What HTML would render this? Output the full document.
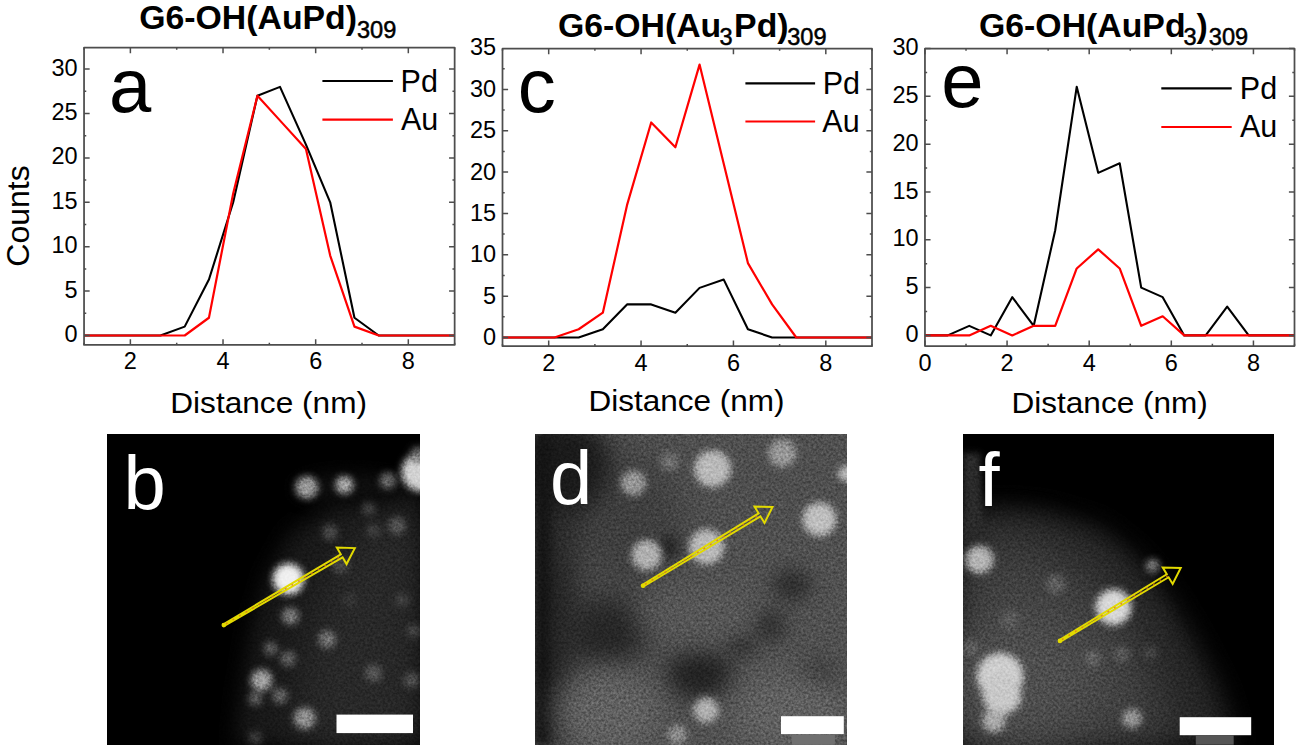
<!DOCTYPE html><html><head><meta charset="utf-8"><style>html,body{margin:0;padding:0;background:#fff;overflow:hidden}svg{display:block}text{font-family:"Liberation Sans",sans-serif;fill:#000}</style></head><body>
<svg width="1300" height="755" viewBox="0 0 1300 755">
<rect width="1300" height="755" fill="#fff"/>
<polyline points="84.05,335.50 160.44,335.50 184.69,326.62 208.94,279.56 233.19,202.30 257.44,95.74 280.00,86.86 305.95,144.58 330.20,202.30 354.45,317.74 378.70,335.50 454.65,335.50" fill="none" stroke="#000" stroke-width="2.1" stroke-linejoin="round"/>
<polyline points="84.05,335.50 184.69,335.50 208.94,317.74 233.19,193.42 257.44,95.74 281.70,122.38 305.95,149.02 330.20,255.58 354.45,326.62 378.70,335.50 454.65,335.50" fill="none" stroke="#ff0000" stroke-width="2.2" stroke-linejoin="round"/>
<rect x="84.05" y="47.55" width="370.60" height="297.40" fill="none" stroke="#4d4d4d" stroke-width="1.75" stroke-linejoin="round"/>
<path d="M130.38,344.95v-5.6M130.38,47.55v5.6M223.02,344.95v-5.6M223.02,47.55v5.6M315.67,344.95v-5.6M315.67,47.55v5.6M408.32,344.95v-5.6M408.32,47.55v5.6M84.05,344.95v-2.2M84.05,47.55v2.2M176.70,344.95v-2.2M176.70,47.55v2.2M269.35,344.95v-2.2M269.35,47.55v2.2M362.00,344.95v-2.2M362.00,47.55v2.2M454.65,344.95v-2.2M454.65,47.55v2.2M84.05,335.50h5.6M454.65,335.50h-5.6M84.05,313.30h2.2M454.65,313.30h-2.2M84.05,291.10h5.6M454.65,291.10h-5.6M84.05,268.90h2.2M454.65,268.90h-2.2M84.05,246.70h5.6M454.65,246.70h-5.6M84.05,224.50h2.2M454.65,224.50h-2.2M84.05,202.30h5.6M454.65,202.30h-5.6M84.05,180.10h2.2M454.65,180.10h-2.2M84.05,157.90h5.6M454.65,157.90h-5.6M84.05,135.70h2.2M454.65,135.70h-2.2M84.05,113.50h5.6M454.65,113.50h-5.6M84.05,91.30h2.2M454.65,91.30h-2.2M84.05,69.10h5.6M454.65,69.10h-5.6" stroke="#4d4d4d" stroke-width="1.5" fill="none"/>
<text x="77.65" y="341.90" text-anchor="end" font-size="23.5">0</text>
<text x="77.65" y="297.50" text-anchor="end" font-size="23.5">5</text>
<text x="77.65" y="253.10" text-anchor="end" font-size="23.5">10</text>
<text x="77.65" y="208.70" text-anchor="end" font-size="23.5">15</text>
<text x="77.65" y="164.30" text-anchor="end" font-size="23.5">20</text>
<text x="77.65" y="119.90" text-anchor="end" font-size="23.5">25</text>
<text x="77.65" y="75.50" text-anchor="end" font-size="23.5">30</text>
<text x="130.38" y="369.45" text-anchor="middle" font-size="23.5">2</text>
<text x="223.02" y="369.45" text-anchor="middle" font-size="23.5">4</text>
<text x="315.67" y="369.45" text-anchor="middle" font-size="23.5">6</text>
<text x="408.32" y="369.45" text-anchor="middle" font-size="23.5">8</text>
<text x="170.2" y="413" font-size="30.3" textLength="196.9" lengthAdjust="spacingAndGlyphs">Distance (nm)</text>
<path d="M322.4,81H392.9" stroke="#000" stroke-width="2.2"/>
<path d="M322.4,119.6H392.9" stroke="#ff0000" stroke-width="2.2"/>
<text x="400.6" y="91.6" font-size="30.5">Pd</text>
<text x="401" y="129.8" font-size="30.5">Au</text>
<text x="109" y="111.6" font-size="76">a</text>
<text x="139.2" y="29.2" font-size="33.8" font-weight="bold">G6-OH(AuPd)</text>
<text x="356.9" y="37.5" font-size="23.6" stroke="#000" stroke-width="0.5">309</text>
<polyline points="502.50,337.50 554.48,337.50 578.66,337.50 602.84,329.23 627.02,304.42 651.20,304.42 675.38,312.69 699.56,287.88 723.74,279.61 747.92,329.23 772.10,337.50 872.00,337.50" fill="none" stroke="#000" stroke-width="2.1" stroke-linejoin="round"/>
<polyline points="502.50,337.50 554.48,337.50 578.66,329.23 602.84,312.69 627.02,205.18 651.20,122.48 675.38,147.29 699.56,64.59 723.74,163.83 747.92,263.07 772.10,304.42 796.28,337.50 872.00,337.50" fill="none" stroke="#ff0000" stroke-width="2.2" stroke-linejoin="round"/>
<rect x="502.50" y="48.65" width="369.50" height="297.55" fill="none" stroke="#4d4d4d" stroke-width="1.75" stroke-linejoin="round"/>
<path d="M548.69,346.20v-5.6M548.69,48.65v5.6M641.06,346.20v-5.6M641.06,48.65v5.6M733.44,346.20v-5.6M733.44,48.65v5.6M825.81,346.20v-5.6M825.81,48.65v5.6M502.50,346.20v-2.2M502.50,48.65v2.2M594.88,346.20v-2.2M594.88,48.65v2.2M687.25,346.20v-2.2M687.25,48.65v2.2M779.62,346.20v-2.2M779.62,48.65v2.2M872.00,346.20v-2.2M872.00,48.65v2.2M502.50,337.50h5.6M872.00,337.50h-5.6M502.50,316.82h2.2M872.00,316.82h-2.2M502.50,296.15h5.6M872.00,296.15h-5.6M502.50,275.48h2.2M872.00,275.48h-2.2M502.50,254.80h5.6M872.00,254.80h-5.6M502.50,234.12h2.2M872.00,234.12h-2.2M502.50,213.45h5.6M872.00,213.45h-5.6M502.50,192.78h2.2M872.00,192.78h-2.2M502.50,172.10h5.6M872.00,172.10h-5.6M502.50,151.43h2.2M872.00,151.43h-2.2M502.50,130.75h5.6M872.00,130.75h-5.6M502.50,110.08h2.2M872.00,110.08h-2.2M502.50,89.40h5.6M872.00,89.40h-5.6M502.50,68.73h2.2M872.00,68.73h-2.2" stroke="#4d4d4d" stroke-width="1.5" fill="none"/>
<text x="496.10" y="344.90" text-anchor="end" font-size="23.5">0</text>
<text x="496.10" y="303.55" text-anchor="end" font-size="23.5">5</text>
<text x="496.10" y="262.20" text-anchor="end" font-size="23.5">10</text>
<text x="496.10" y="220.85" text-anchor="end" font-size="23.5">15</text>
<text x="496.10" y="179.50" text-anchor="end" font-size="23.5">20</text>
<text x="496.10" y="138.15" text-anchor="end" font-size="23.5">25</text>
<text x="496.10" y="96.80" text-anchor="end" font-size="23.5">30</text>
<text x="496.10" y="55.45" text-anchor="end" font-size="23.5">35</text>
<text x="548.69" y="370.70" text-anchor="middle" font-size="23.5">2</text>
<text x="641.06" y="370.70" text-anchor="middle" font-size="23.5">4</text>
<text x="733.44" y="370.70" text-anchor="middle" font-size="23.5">6</text>
<text x="825.81" y="370.70" text-anchor="middle" font-size="23.5">8</text>
<text x="588.5" y="410.8" font-size="30.3" textLength="196.1" lengthAdjust="spacingAndGlyphs">Distance (nm)</text>
<path d="M745.4,83.4H815.1" stroke="#000" stroke-width="2.2"/>
<path d="M745.4,121.5H815.1" stroke="#ff0000" stroke-width="2.2"/>
<text x="822.7" y="93.5" font-size="30.5">Pd</text>
<text x="822.3" y="132" font-size="30.5">Au</text>
<text x="517.8" y="112" font-size="76">c</text>
<text x="557.9" y="37.3" font-size="33.8" font-weight="bold">G6-OH(Au</text>
<text x="719.6" y="45" font-size="23.6" stroke="#000" stroke-width="0.5">3</text>
<text x="734.1" y="37.3" font-size="33.8" font-weight="bold">Pd)</text>
<text x="787.2" y="45" font-size="23.6" stroke="#000" stroke-width="0.5">309</text>
<polyline points="924.95,335.40 947.74,335.40 969.23,325.84 990.73,335.40 1012.23,297.15 1033.72,325.84 1055.22,230.22 1076.71,86.79 1098.21,172.85 1119.70,163.28 1141.20,287.59 1162.69,297.15 1184.19,335.40 1205.68,335.40 1227.18,306.71 1248.68,335.40 1294.50,335.40" fill="none" stroke="#000" stroke-width="2.1" stroke-linejoin="round"/>
<polyline points="924.95,335.40 969.23,335.40 990.73,325.84 1012.23,335.40 1033.72,325.84 1055.22,325.84 1076.71,268.47 1098.21,249.34 1119.70,268.47 1141.20,325.84 1162.69,316.28 1184.19,335.40 1294.50,335.40" fill="none" stroke="#ff0000" stroke-width="2.2" stroke-linejoin="round"/>
<rect x="924.95" y="48.55" width="369.55" height="297.50" fill="none" stroke="#4d4d4d" stroke-width="1.75" stroke-linejoin="round"/>
<path d="M924.95,346.05v-5.6M924.95,48.55v5.6M1007.07,346.05v-5.6M1007.07,48.55v5.6M1089.19,346.05v-5.6M1089.19,48.55v5.6M1171.32,346.05v-5.6M1171.32,48.55v5.6M1253.44,346.05v-5.6M1253.44,48.55v5.6M966.01,346.05v-2.2M966.01,48.55v2.2M1048.13,346.05v-2.2M1048.13,48.55v2.2M1130.26,346.05v-2.2M1130.26,48.55v2.2M1212.38,346.05v-2.2M1212.38,48.55v2.2M1294.50,346.05v-2.2M1294.50,48.55v2.2M924.95,335.40h5.6M1294.50,335.40h-5.6M924.95,311.50h2.2M1294.50,311.50h-2.2M924.95,287.59h5.6M1294.50,287.59h-5.6M924.95,263.69h2.2M1294.50,263.69h-2.2M924.95,239.78h5.6M1294.50,239.78h-5.6M924.95,215.88h2.2M1294.50,215.88h-2.2M924.95,191.97h5.6M1294.50,191.97h-5.6M924.95,168.06h2.2M1294.50,168.06h-2.2M924.95,144.16h5.6M1294.50,144.16h-5.6M924.95,120.25h2.2M1294.50,120.25h-2.2M924.95,96.35h5.6M1294.50,96.35h-5.6M924.95,72.44h2.2M1294.50,72.44h-2.2M924.95,48.54h5.6M1294.50,48.54h-5.6" stroke="#4d4d4d" stroke-width="1.5" fill="none"/>
<text x="918.55" y="342.00" text-anchor="end" font-size="23.5">0</text>
<text x="918.55" y="294.19" text-anchor="end" font-size="23.5">5</text>
<text x="918.55" y="246.38" text-anchor="end" font-size="23.5">10</text>
<text x="918.55" y="198.57" text-anchor="end" font-size="23.5">15</text>
<text x="918.55" y="150.76" text-anchor="end" font-size="23.5">20</text>
<text x="918.55" y="102.95" text-anchor="end" font-size="23.5">25</text>
<text x="918.55" y="55.14" text-anchor="end" font-size="23.5">30</text>
<text x="924.95" y="370.55" text-anchor="middle" font-size="23.5">0</text>
<text x="1007.07" y="370.55" text-anchor="middle" font-size="23.5">2</text>
<text x="1089.19" y="370.55" text-anchor="middle" font-size="23.5">4</text>
<text x="1171.32" y="370.55" text-anchor="middle" font-size="23.5">6</text>
<text x="1253.44" y="370.55" text-anchor="middle" font-size="23.5">8</text>
<text x="1011.4" y="412.8" font-size="30.3" textLength="196.5" lengthAdjust="spacingAndGlyphs">Distance (nm)</text>
<path d="M1161.3,88.4H1231.7" stroke="#000" stroke-width="2.2"/>
<path d="M1161.3,127H1231.7" stroke="#ff0000" stroke-width="2.2"/>
<text x="1239.8" y="98.8" font-size="30.5">Pd</text>
<text x="1240" y="137.3" font-size="30.5">Au</text>
<text x="941.3" y="107.1" font-size="76">e</text>
<text x="979" y="37.3" font-size="33.8" font-weight="bold">G6-OH(AuPd</text>
<text x="1183.6" y="45" font-size="23.6" stroke="#000" stroke-width="0.5">3</text>
<text x="1196.4" y="37.3" font-size="33.8" font-weight="bold">)</text>
<text x="1208.8" y="45" font-size="23.6" stroke="#000" stroke-width="0.5">309</text>
<text transform="translate(29.4,266.7) rotate(-90)" font-size="32">Counts</text>
<defs><filter color-interpolation-filters="sRGB" id="nz" x="0" y="0" width="100%" height="100%"><feTurbulence type="fractalNoise" baseFrequency="0.4" numOctaves="2" seed="7" stitchTiles="stitch"/><feColorMatrix type="matrix" values="1.4 0 0 0 -0.2  1.4 0 0 0 -0.2  1.4 0 0 0 -0.2  0 0 0 0 1"/></filter><filter color-interpolation-filters="sRGB" id="bl3" x="-50%" y="-50%" width="200%" height="200%"><feGaussianBlur stdDeviation="3"/></filter><filter color-interpolation-filters="sRGB" id="bl5" x="-50%" y="-50%" width="200%" height="200%"><feGaussianBlur stdDeviation="5"/></filter><filter color-interpolation-filters="sRGB" id="bl6" x="-50%" y="-50%" width="200%" height="200%"><feGaussianBlur stdDeviation="6"/></filter><filter color-interpolation-filters="sRGB" id="bl8" x="-50%" y="-50%" width="200%" height="200%"><feGaussianBlur stdDeviation="8"/></filter><filter color-interpolation-filters="sRGB" id="bl9" x="-50%" y="-50%" width="200%" height="200%"><feGaussianBlur stdDeviation="9"/></filter><filter color-interpolation-filters="sRGB" id="bl10" x="-50%" y="-50%" width="200%" height="200%"><feGaussianBlur stdDeviation="10"/></filter><filter color-interpolation-filters="sRGB" id="bl11" x="-50%" y="-50%" width="200%" height="200%"><feGaussianBlur stdDeviation="11"/></filter><filter color-interpolation-filters="sRGB" id="bl12" x="-50%" y="-50%" width="200%" height="200%"><feGaussianBlur stdDeviation="12"/></filter><filter color-interpolation-filters="sRGB" id="bl14" x="-50%" y="-50%" width="200%" height="200%"><feGaussianBlur stdDeviation="14"/></filter><filter color-interpolation-filters="sRGB" id="bl16" x="-50%" y="-50%" width="200%" height="200%"><feGaussianBlur stdDeviation="16"/></filter><filter color-interpolation-filters="sRGB" id="bl18" x="-50%" y="-50%" width="200%" height="200%"><feGaussianBlur stdDeviation="18"/></filter><filter color-interpolation-filters="sRGB" id="bl22" x="-50%" y="-50%" width="200%" height="200%"><feGaussianBlur stdDeviation="22"/></filter><filter color-interpolation-filters="sRGB" id="bl25" x="-50%" y="-50%" width="200%" height="200%"><feGaussianBlur stdDeviation="25"/></filter><filter color-interpolation-filters="sRGB" id="blobf" x="-50%" y="-50%" width="200%" height="200%"><feGaussianBlur stdDeviation="3.6"/></filter><clipPath id="cpb"><rect x="107" y="434" width="313" height="311"/></clipPath><clipPath id="cpd"><rect x="535" y="434" width="312" height="311"/></clipPath><clipPath id="cpf"><rect x="963" y="434" width="311" height="311"/></clipPath></defs>
<g clip-path="url(#cpb)">
<rect x="107" y="434" width="313" height="311" fill="#000000"/>
<polygon points="330.0,505.0 400.0,495.0 420.0,490.0 420.0,745.0 236.0,745.0 242.0,690.0 252.0,630.0 268.0,575.0 290.0,535.0" fill="#181818" filter="url(#bl10)"/>
<polygon points="380.0,520.0 420.0,510.0 420.0,745.0 292.0,745.0 300.0,660.0 318.0,590.0 345.0,545.0" fill="#282828" filter="url(#bl18)"/>
<ellipse cx="352" cy="488" rx="58" ry="15" fill="#0e0e0e" filter="url(#bl8)"/>
<g filter="url(#blobf)">
<circle cx="306.8" cy="487.4" r="11.2" fill="#9b9b9b"/>
<circle cx="344.4" cy="484.9" r="8.9" fill="#aaaaaa"/>
<circle cx="387.8" cy="480.7" r="8.1" fill="#696969"/>
<circle cx="421" cy="472" r="19.4" fill="#d2d2d2"/>
<circle cx="418" cy="455" r="7.8" fill="#737373"/>
<circle cx="368.6" cy="509.1" r="6.8" fill="#414141"/>
<circle cx="397" cy="525.8" r="8.7" fill="#555555"/>
<circle cx="373.6" cy="530.8" r="6.8" fill="#414141"/>
<circle cx="330.2" cy="532.5" r="7.8" fill="#4b4b4b"/>
<circle cx="340.5" cy="565.4" r="8.7" fill="#464646"/>
<circle cx="288.4" cy="579.1" r="15.5" fill="#f0f0f0"/>
<circle cx="290.5" cy="616.1" r="8.7" fill="#787878"/>
<circle cx="327.2" cy="639.3" r="8.7" fill="#737373"/>
<circle cx="270.8" cy="648.5" r="6.8" fill="#5f5f5f"/>
<circle cx="288.2" cy="658.7" r="7.8" fill="#5f5f5f"/>
<circle cx="261.6" cy="680.3" r="10.7" fill="#a0a0a0"/>
<circle cx="255.4" cy="698.8" r="6.8" fill="#5f5f5f"/>
<circle cx="280" cy="695.7" r="7.8" fill="#646464"/>
<circle cx="304.7" cy="718.3" r="10.7" fill="#919191"/>
<circle cx="373.4" cy="673.1" r="8.7" fill="#555555"/>
<circle cx="411.4" cy="680.3" r="7.8" fill="#505050"/>
<circle cx="413.4" cy="631" r="6.8" fill="#464646"/>
<circle cx="255.4" cy="737.8" r="6.8" fill="#3c3c3c"/>
<circle cx="402" cy="600" r="7.8" fill="#3c3c3c"/>
<circle cx="350" cy="600" r="6.8" fill="#373737"/>
</g>
<rect x="107" y="434" width="313" height="311" filter="url(#nz)" style="mix-blend-mode:overlay" opacity="0.32"/>
</g>
<text x="123.5" y="509.2" font-size="76" style="fill:#fff">b</text>
<polygon points="224.28,625.92 342.58,557.31 346.56,564.08 354.80,548.10 336.83,547.53 340.81,554.29 223.32,624.28" fill="none" stroke="#e2da00" stroke-width="2.0" stroke-linejoin="miter" stroke-miterlimit="8"/>
<circle cx="223.8" cy="625.1" r="2.3" fill="#e2da00"/>
<line x1="226.0" y1="623.8" x2="341.7" y2="555.8" stroke="#e07818" stroke-width="1.5" stroke-dasharray="1.8 5.8" opacity="0.8"/>
<rect x="336.5" y="714.6" width="76.5" height="18.5" fill="#fff"/>
<g clip-path="url(#cpd)">
<rect x="535" y="434" width="312" height="311" fill="#505050"/>
<polygon points="535.0,434.0 600.0,434.0 610.0,480.0 600.0,520.0 580.0,560.0 575.0,650.0 570.0,745.0 535.0,745.0" fill="#212121" filter="url(#bl14)"/>
<ellipse cx="625" cy="520" rx="60" ry="70" fill="#3e3e3e" filter="url(#bl22)"/>
<ellipse cx="565" cy="468" rx="42" ry="44" fill="#1a1a1a" filter="url(#bl12)"/>
<polygon points="535.0,434.0 551.0,434.0 551.0,745.0 535.0,745.0" fill="#141414" filter="url(#bl5)"/>
<ellipse cx="605" cy="632" rx="42" ry="36" fill="#262626" filter="url(#bl14)"/>
<ellipse cx="700" cy="675" rx="34" ry="24" fill="#222222" filter="url(#bl11)"/>
<ellipse cx="669" cy="547" rx="10" ry="12" fill="#242424" filter="url(#bl6)"/>
<ellipse cx="792" cy="585" rx="20" ry="16" fill="#2d2d2d" filter="url(#bl9)"/>
<ellipse cx="768" cy="625" rx="18" ry="16" fill="#2e2e2e" filter="url(#bl9)"/>
<ellipse cx="817" cy="678" rx="18" ry="18" fill="#323232" filter="url(#bl10)"/>
<ellipse cx="740" cy="645" rx="16" ry="12" fill="#303030" filter="url(#bl8)"/>
<ellipse cx="608" cy="712" rx="52" ry="42" fill="#606060" filter="url(#bl14)"/>
<ellipse cx="700" cy="612" rx="60" ry="26" fill="#565656" filter="url(#bl14)"/>
<ellipse cx="790" cy="712" rx="60" ry="40" fill="#606060" filter="url(#bl16)"/>
<ellipse cx="760" cy="480" rx="70" ry="40" fill="#4e4e4e" filter="url(#bl18)"/>
<g filter="url(#blobf)">
<circle cx="633.4" cy="483.2" r="12.6" fill="#969696"/>
<circle cx="669.4" cy="461.6" r="9.2" fill="#707070"/>
<circle cx="712.6" cy="468.8" r="18.4" fill="#b9b9b9"/>
<circle cx="782.2" cy="453.2" r="14.0" fill="#969696"/>
<circle cx="846" cy="473.6" r="7.8" fill="#bebebe"/>
<circle cx="819.4" cy="519.2" r="16.8" fill="#bebebe"/>
<circle cx="646.6" cy="555.2" r="15.1" fill="#afafaf"/>
<circle cx="706.6" cy="546.8" r="17.5" fill="#b9b9b9"/>
<circle cx="706.1" cy="710.2" r="12.6" fill="#afafaf"/>
<circle cx="677.2" cy="734.8" r="9.7" fill="#8c8c8c"/>
</g>
<rect x="535" y="434" width="312" height="311" filter="url(#nz)" style="mix-blend-mode:overlay" opacity="0.32"/>
</g>
<text x="550.0" y="504.0" font-size="76" style="fill:#fff">d</text>
<polygon points="643.49,586.51 760.42,516.30 764.51,523.00 772.50,506.90 754.52,506.60 758.61,513.31 642.51,584.89" fill="none" stroke="#e2da00" stroke-width="2.0" stroke-linejoin="miter" stroke-miterlimit="8"/>
<circle cx="643.0" cy="585.7" r="2.3" fill="#e2da00"/>
<line x1="645.1" y1="584.4" x2="759.5" y2="514.8" stroke="#e07818" stroke-width="1.5" stroke-dasharray="1.8 5.8" opacity="0.8"/>
<rect x="781.0" y="716.2" width="62.8" height="17.9" fill="#fff"/>
<rect x="791.7" y="734.8" width="43.2" height="10" fill="#707070"/>
<g clip-path="url(#cpf)">
<rect x="963" y="434" width="311" height="311" fill="#000000"/>
<polygon points="963.0,514.0 1000.0,508.0 1045.0,512.0 1099.0,528.0 1136.0,557.0 1169.0,599.0 1194.0,641.0 1219.0,690.0 1236.0,745.0 963.0,745.0" fill="#242424" filter="url(#bl12)"/>
<polygon points="963.0,540.0 1030.0,540.0 1090.0,570.0 1130.0,620.0 1160.0,690.0 1175.0,745.0 963.0,745.0" fill="#404040" filter="url(#bl22)"/>
<ellipse cx="1020" cy="680" rx="80" ry="65" fill="#4e4e4e" filter="url(#bl25)"/>
<polygon points="963.0,453.0 980.0,453.0 984.0,540.0 963.0,540.0" fill="#2a2a2a" filter="url(#bl3)"/>
<g filter="url(#blobf)">
<circle cx="979.5" cy="559.7" r="14.0" fill="#b4b4b4"/>
<circle cx="1055.7" cy="584.5" r="9.7" fill="#5f5f5f"/>
<circle cx="1113.5" cy="607.1" r="17.9" fill="#d7d7d7"/>
<circle cx="1152.6" cy="565.9" r="6.8" fill="#7d7d7d"/>
<circle cx="1000.1" cy="676" r="23.3" fill="#cdcdcd"/>
<circle cx="1002" cy="695" r="19.4" fill="#c8c8c8"/>
<circle cx="993.9" cy="720.5" r="11.6" fill="#aaaaaa"/>
<circle cx="1132" cy="718.4" r="9.7" fill="#969696"/>
<circle cx="1092.8" cy="658.6" r="7.8" fill="#646464"/>
<circle cx="971.2" cy="648.3" r="7.8" fill="#5f5f5f"/>
<circle cx="1121.7" cy="654.5" r="7.8" fill="#5a5a5a"/>
<circle cx="1150.5" cy="652.5" r="6.8" fill="#464646"/>
<circle cx="1010" cy="620" r="9.7" fill="#5a5a5a"/>
</g>
<rect x="963" y="434" width="311" height="311" filter="url(#nz)" style="mix-blend-mode:overlay" opacity="0.32"/>
</g>
<text x="978.5" y="506.3" font-size="76" style="fill:#fff">f</text>
<polygon points="1060.39,641.71 1168.60,577.26 1172.66,583.98 1180.70,567.90 1162.73,567.55 1166.79,574.26 1059.41,640.09" fill="none" stroke="#e2da00" stroke-width="2.0" stroke-linejoin="miter" stroke-miterlimit="8"/>
<circle cx="1059.9" cy="640.9" r="2.3" fill="#e2da00"/>
<line x1="1062.0" y1="639.6" x2="1167.7" y2="575.8" stroke="#e07818" stroke-width="1.5" stroke-dasharray="1.8 5.8" opacity="0.8"/>
<rect x="1179.7" y="717.2" width="71.5" height="18.0" fill="#fff"/>
<rect x="1195.8" y="735.2" width="37.9" height="9.5" fill="#555555"/>
</svg></body></html>
